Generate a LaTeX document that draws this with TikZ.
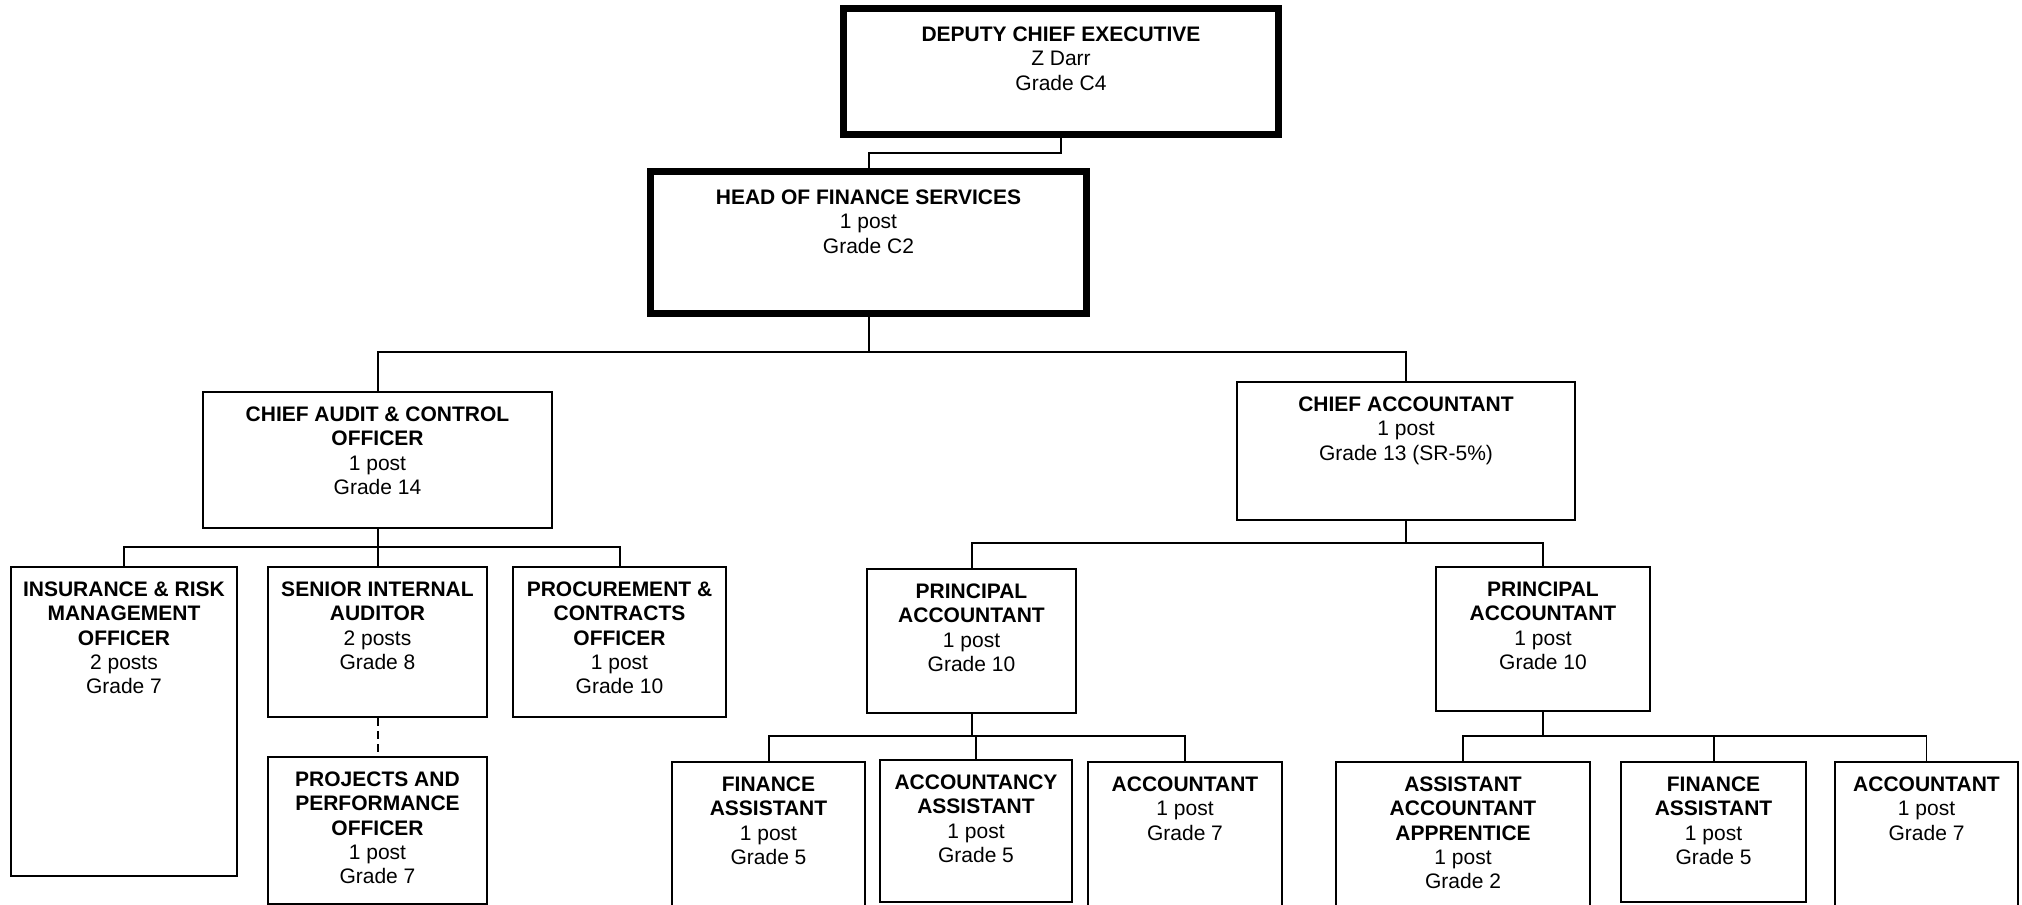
\documentclass[tikz,border=0pt]{standalone}
\usepackage{fontspec}
\setmainfont{Liberation Sans}
\usetikzlibrary{fit,calc}
\tikzset{
  thinbox/.style={draw=black, line width=2pt, inner sep=0pt, rectangle},
  thickbox/.style={draw=black, line width=6.5pt, inner sep=0pt, rectangle},
  txt/.style={inner sep=0pt, align=center, font=\fontsize{21}{24.4}\selectfont},
  conn/.style={draw=black, line width=2pt},
  thinconn/.style={draw=black, line width=1.3pt},
  dashconn/.style={draw=black, line width=2pt, dash pattern=on 8pt off 5pt},
}
\newcommand\obox[8]{%
  \node[#2, fit={(#3,#4) (#5,#6)}] (#1) {};
  \node[txt, anchor=north] (#1-t) at ($(#1.north)+(0,#8)$) {#7};}
\newcommand\fl{\rule{0pt}{16pt}}
\begin{document}
\begin{tikzpicture}[x=1pt,y=-1pt]
\useasboundingbox (0,0) rectangle (2022,905);
\fill[white] (0,0) rectangle (2022,905);
\begin{scope}
\clip (0,0) rectangle (2022,905);
% boxes
\obox{dep}{thickbox}{843.5}{8.5}{1278.5}{134.5}{\fl\textbf{DEPUTY CHIEF EXECUTIVE}\\Z Darr\\Grade C4}{20}
\obox{head}{thickbox}{650.5}{171.5}{1086.5}{313.5}{\fl\textbf{HEAD OF FINANCE SERVICES}\\1 post\\Grade C2}{20}
\obox{cac}{thinbox}{203}{392}{552}{528}{\fl\textbf{CHIEF AUDIT \& CONTROL}\\\textbf{OFFICER}\\1 post\\Grade 14}{14}
\obox{ca}{thinbox}{1237}{382}{1575}{520}{\fl\textbf{CHIEF ACCOUNTANT}\\1 post\\Grade 13 (SR-5\%)}{14}
\obox{ins}{thinbox}{11}{567}{237}{876}{\fl\textbf{INSURANCE \& RISK}\\\textbf{MANAGEMENT}\\\textbf{OFFICER}\\2 posts\\Grade 7}{14}
\obox{sia}{thinbox}{268}{567}{487}{717}{\fl\textbf{SENIOR INTERNAL}\\\textbf{AUDITOR}\\2 posts\\Grade 8}{14}
\obox{pco}{thinbox}{513}{567}{726}{717}{\fl\textbf{PROCUREMENT \&}\\\textbf{CONTRACTS}\\\textbf{OFFICER}\\1 post\\Grade 10}{14}
\obox{ppo}{thinbox}{268}{757}{487}{903.5}{\fl\textbf{PROJECTS AND}\\\textbf{PERFORMANCE}\\\textbf{OFFICER}\\1 post\\Grade 7}{14}
\obox{pl}{thinbox}{867}{569}{1076}{713}{\fl\textbf{PRINCIPAL}\\\textbf{ACCOUNTANT}\\1 post\\Grade 10}{14}
\obox{pr}{thinbox}{1436}{567}{1650}{711}{\fl\textbf{PRINCIPAL}\\\textbf{ACCOUNTANT}\\1 post\\Grade 10}{14}
\obox{fal}{thinbox}{672}{762}{865}{915}{\fl\textbf{FINANCE}\\\textbf{ASSISTANT}\\1 post\\Grade 5}{14}
\obox{aas}{thinbox}{880}{760}{1072}{902}{\fl\textbf{ACCOUNTANCY}\\\textbf{ASSISTANT}\\1 post\\Grade 5}{14}
\obox{acl}{thinbox}{1088}{762}{1282}{915}{\fl\textbf{ACCOUNTANT}\\1 post\\Grade 7}{14}
\obox{aaa}{thinbox}{1336}{762}{1590}{915}{\fl\textbf{ASSISTANT}\\\textbf{ACCOUNTANT}\\\textbf{APPRENTICE}\\1 post\\Grade 2}{14}
\obox{far}{thinbox}{1621}{762}{1806}{902}{\fl\textbf{FINANCE}\\\textbf{ASSISTANT}\\1 post\\Grade 5}{14}
\obox{acr}{thinbox}{1835}{762}{2018}{915}{\fl\textbf{ACCOUNTANT}\\1 post\\Grade 7}{14}
% connectors
\draw[conn] (dep.south) -- ++(0,15) -| (head.north);
\coordinate (hb) at ($(head.south)+(0,35)$);
\draw[conn] (head.south) -- (hb);
\draw[conn] (cac.north) |- (hb);
\draw[conn] (hb) -| (ca.north);
\coordinate (cb) at ($(cac.south)+(0,18)$);
\draw[conn] (cac.south) -- (cb);
\draw[conn] (ins.north) |- (cb) -| (pco.north);
\draw[conn] (cb) -| (sia.north);
\draw[dashconn] (sia.south) -- (ppo.north);
\coordinate (ab) at ($(ca.south)+(0,22)$);
\draw[conn] (ca.south) -- (ab);
\draw[conn] (ab) -| (pl.north);
\draw[conn] (ab) -| (pr.north);
\coordinate (plb) at ($(pl.south)+(0,22)$);
\draw[conn] (pl.south) -- (plb);
\draw[conn] (fal.north) |- (plb) -| (acl.north);
\draw[conn] (plb) -| (aas.north);
\coordinate (prb) at ($(pr.south)+(0,24)$);
\draw[conn] (pr.south) -- (prb);
\draw[conn] (prb) -| (far.north);
\draw[thinconn] (prb) -| (aaa.north);
\draw[thinconn] (prb) -| (acr.north);
\end{scope}
\end{tikzpicture}
\end{document}
